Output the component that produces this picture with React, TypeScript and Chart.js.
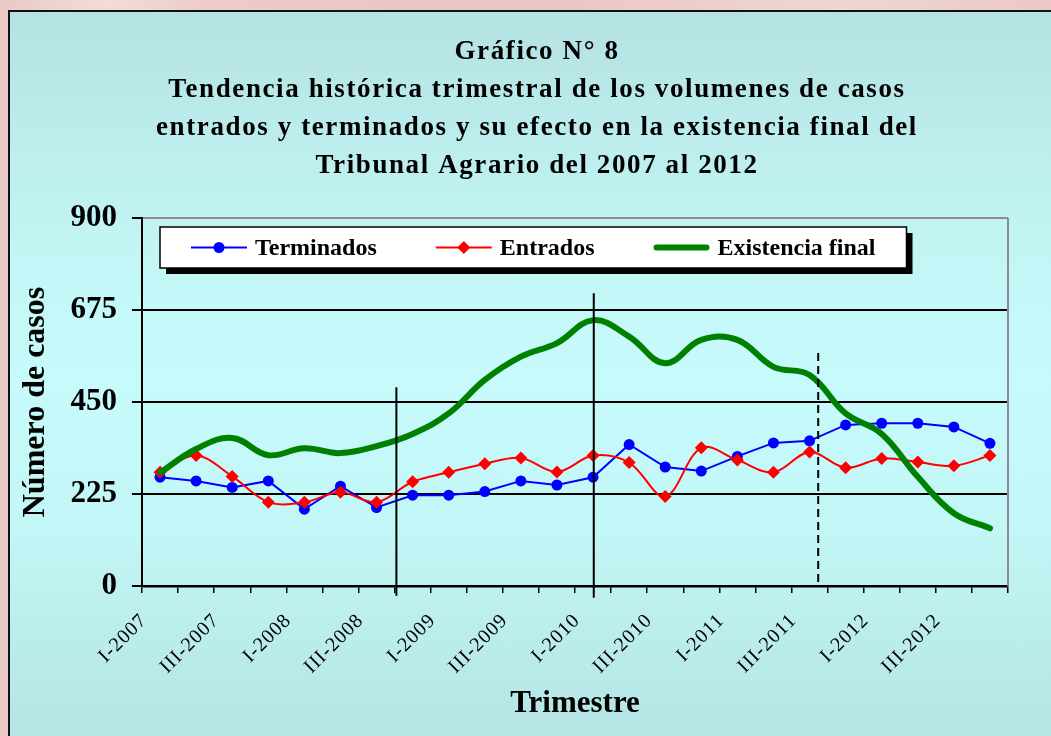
import React, { useEffect, useRef } from 'react';
import { Chart, registerables } from 'chart.js';

Chart.register(...registerables);

// ---- data ----
const quarters = [
  'I-2007', 'II-2007', 'III-2007', 'IV-2007',
  'I-2008', 'II-2008', 'III-2008', 'IV-2008',
  'I-2009', 'II-2009', 'III-2009', 'IV-2009',
  'I-2010', 'II-2010', 'III-2010', 'IV-2010',
  'I-2011', 'II-2011', 'III-2011', 'IV-2011',
  'I-2012', 'II-2012', 'III-2012', 'IV-2012',
];
const terminados = [266, 257, 241, 257, 188, 244, 192, 222, 222, 231, 257, 247, 266, 346, 291, 281, 317, 350, 355, 394, 398, 398, 389, 349];
const entrados = [278, 319, 268, 205, 205, 229, 205, 255, 278, 299, 313, 279, 319, 302, 219, 338, 308, 278, 328, 289, 312, 303, 294, 319];
const existenciaFinal = [277, 335, 362, 320, 337, 325, 342, 372, 422, 504, 561, 594, 650, 610, 545, 602, 602, 536, 516, 422, 372, 267, 178, 141];
const yTickValues = [0, 225, 450, 675, 900];
const seriesLabels = ['Terminados', 'Entrados', 'Existencia final'];
const titleLines = [
  'Gráfico N° 8',
  'Tendencia histórica trimestral de los volumenes de casos',
  'entrados y terminados y su efecto en la existencia final del',
  'Tribunal Agrario del 2007 al 2012',
];
const xTitle = 'Trimestre';
const yTitle = 'Número de casos';
// annotation lines: position on category axis, value range
const dividerAt = [6.55, 12.02, 18.24];
const dividerFrom = [-24, -29, 10];
const dividerTo = [486, 716, 581];
const dividerDashed = [false, false, true];

const SERIF = '"Liberation Serif", "Times New Roman", serif';

const spacingPlugin = {
  id: 'letterSpacingPatch',
  beforeDraw(chart: any) {
    const wrap = (obj: any, key: string, sp: string) => {
      if (!obj || obj['_sp_' + key]) return;
      const orig = obj[key];
      obj[key] = function (...args: any[]) {
        const c: any = chart.ctx;
        const prev = c.letterSpacing;
        c.letterSpacing = sp;
        try {
          return orig.apply(this, args);
        } finally {
          c.letterSpacing = prev;
        }
      };
      obj['_sp_' + key] = true;
    };
    wrap(chart.titleBlock, 'draw', '1.6px');
    wrap(chart.scales.x, 'drawLabels', '1px');
  },
};

const frameBorderPlugin = {
  id: 'plotRightBorder',
  beforeDatasetsDraw(chart: any) {
    const { ctx, chartArea } = chart;
    ctx.save();
    ctx.strokeStyle = '#8c8c8c';
    ctx.lineWidth = 2;
    ctx.beginPath();
    ctx.moveTo(chartArea.right, chartArea.top);
    ctx.lineTo(chartArea.right, chartArea.bottom);
    ctx.stroke();
    ctx.restore();
  },
};

const dividerPlugin = {
  id: 'dividers',
  afterDatasetsDraw(chart: any) {
    const { ctx } = chart;
    const x = chart.scales.x;
    const y = chart.scales.y;
    ctx.save();
    ctx.strokeStyle = '#000';
    ctx.lineWidth = 2;
    dividerAt.forEach((at, i) => {
      ctx.setLineDash(dividerDashed[i] ? [8, 5] : []);
      const px = x.getPixelForValue(at);
      ctx.beginPath();
      ctx.moveTo(px, y.getPixelForValue(dividerFrom[i]));
      ctx.lineTo(px, y.getPixelForValue(dividerTo[i]));
      ctx.stroke();
    });
    ctx.restore();
  },
};

const legendBoxPlugin = {
  id: 'legendBox',
  afterDraw(chart: any) {
    const { ctx, chartArea } = chart;
    const ds = chart.data.datasets;
    ctx.save();
    ctx.font = `bold 24px ${SERIF}`;
    const padL = 31, padR = 31, sample = 56, textGap = 8, itemGap = 59, h = 41;
    const widths = ds.map((d: any) => ctx.measureText(d.label).width);
    let w = padL + padR;
    widths.forEach((tw: number, i: number) => {
      w += sample + textGap + tw + (i < ds.length - 1 ? itemGap : 0);
    });
    const left = chartArea.left + 18;
    const top = chartArea.top + 9;
    ctx.fillStyle = '#000';
    ctx.fillRect(left + 6, top + 6, w, h);
    ctx.fillStyle = '#fff';
    ctx.fillRect(left, top, w, h);
    ctx.strokeStyle = '#000';
    ctx.lineWidth = 1.5;
    ctx.strokeRect(left, top, w, h);
    let x = left + padL;
    const cy = top + h / 2;
    ds.forEach((d: any, i: number) => {
      ctx.strokeStyle = d.borderColor;
      ctx.lineWidth = d.borderWidth;
      ctx.lineCap = d.borderCapStyle || 'butt';
      const inset = d.borderCapStyle === 'round' ? d.borderWidth / 2 : 0;
      ctx.beginPath();
      ctx.moveTo(x + inset, cy);
      ctx.lineTo(x + sample - inset, cy);
      ctx.stroke();
      const r = d.pointRadius || 0;
      const mx = x + sample / 2;
      if (r > 0) {
        ctx.fillStyle = d.backgroundColor;
        ctx.beginPath();
        if (d.pointStyle === 'rectRot') {
          ctx.moveTo(mx, cy - r);
          ctx.lineTo(mx + r, cy);
          ctx.lineTo(mx, cy + r);
          ctx.lineTo(mx - r, cy);
          ctx.closePath();
        } else {
          ctx.arc(mx, cy, r, 0, Math.PI * 2);
        }
        ctx.fill();
      }
      ctx.fillStyle = '#000';
      ctx.textAlign = 'left';
      ctx.textBaseline = 'middle';
      ctx.fillText(d.label, x + sample + textGap, cy + 1);
      x += sample + textGap + widths[i] + itemGap;
    });
    ctx.restore();
  },
};

export default function App() {
  const ref = useRef<HTMLCanvasElement>(null);

  useEffect(() => {
    const canvas = ref.current;
    if (!canvas) return;
    const chart = new Chart(canvas, {
      type: 'line',
      data: {
        labels: quarters,
        datasets: [
          {
            label: seriesLabels[0],
            data: terminados,
            borderColor: '#0000ff',
            backgroundColor: '#0000ff',
            borderWidth: 2,
            pointStyle: 'circle',
            pointRadius: 5.5,
            pointBorderWidth: 0,
            tension: 0,
            order: 3,
          },
          {
            label: seriesLabels[1],
            data: entrados,
            borderColor: '#ff0000',
            backgroundColor: '#ff0000',
            borderWidth: 2,
            pointStyle: 'rectRot',
            pointRadius: 6.5,
            pointBorderWidth: 0,
            tension: 0.35,
            order: 2,
          },
          {
            label: seriesLabels[2],
            data: existenciaFinal,
            borderColor: '#008000',
            backgroundColor: '#008000',
            borderWidth: 6,
            borderCapStyle: 'round',
            borderJoinStyle: 'round',
            pointRadius: 0,
            tension: 0.4,
            order: 1,
          },
        ] as any,
      },
      options: {
        animation: false,
        responsive: false,
        devicePixelRatio: 1,
        layout: { padding: 0 },
        plugins: {
          legend: { display: false },
          tooltip: { enabled: false },
          title: {
            display: true,
            text: titleLines,
            color: '#000',
            font: { family: SERIF, size: 27, weight: 'bold', lineHeight: '38px' },
            padding: { top: 33, bottom: 33 },
          },
        },
        scales: {
          x: {
            type: 'category',
            offset: true,
            grid: {
              display: true,
              drawOnChartArea: false,
              drawTicks: true,
              tickLength: 7,
              offset: true,
              color: '#000',
              lineWidth: 1.5,
            },
            border: { display: true, color: '#000', width: 2.5 },
            ticks: {
              autoSkip: false,
              maxRotation: 45,
              minRotation: 45,
              padding: 16,
              labelOffset: -16,
              color: '#000',
              font: { family: SERIF, size: 20 },
              callback: (_v: any, i: number) => (i % 2 === 0 ? quarters[i] : ''),
            },
            title: {
              display: true,
              text: xTitle,
              color: '#000',
              font: { family: SERIF, size: 31, weight: 'bold' },
              padding: { top: 0, bottom: 13 },
            },
            afterFit: (s: any) => {
              s.height = 150;
            },
          },
          y: {
            min: 0,
            max: 900,
            afterBuildTicks: (s: any) => {
              s.ticks = yTickValues.map((v) => ({ value: v }));
            },
            ticks: {
              color: '#000',
              padding: 15,
              font: { family: SERIF, size: 31, weight: 'bold' },
            },
            grid: {
              color: (c: any) => (c.tick && c.tick.value === 900 ? '#8c8c8c' : '#000'),
              lineWidth: 2,
              tickLength: 10,
              tickColor: '#000',
            },
            border: { color: '#000', width: 2 },
            title: {
              display: true,
              text: yTitle,
              color: '#000',
              font: { family: SERIF, size: 32, weight: 'bold' },
              padding: { top: 17, bottom: 0 },
            },
            afterFit: (s: any) => {
              s.width = 142;
            },
          },
          yRight: {
            position: 'right',
            display: true,
            min: 0,
            max: 900,
            grid: { display: false },
            border: { display: false },
            ticks: { display: false },
            afterFit: (s: any) => {
              s.width = 66;
            },
          },
        },
      } as any,
      plugins: [spacingPlugin, frameBorderPlugin, dividerPlugin, legendBoxPlugin],
    });
    return () => chart.destroy();
  }, []);

  return (
    <div
      style={{
        position: 'fixed',
        left: 0,
        top: 0,
        width: 1051,
        height: 736,
        overflow: 'hidden',
        background: 'linear-gradient(90deg, #e9c9c4 0%, #f3dcd7 10%, #ecccc7 20%, #e8c6c1 50%, #f0d6d1 80%, #e9c9c4 100%)',
      }}
    >
      <div
        style={{
          position: 'absolute',
          left: 8,
          top: 10,
          width: 1100,
          height: 740,
          boxSizing: 'border-box',
          borderLeft: '2px solid #111',
          borderTop: '2px solid #111',
          background: 'linear-gradient(180deg, #b5e2e2 0%, #c2f4f4 30%, #c7fbfb 50%, #c3f6f6 70%, #b4e3e3 100%)',
        }}
      />
      <canvas
        ref={ref}
        width={1074}
        height={736}
        style={{ position: 'absolute', left: 0, top: 0, width: 1074, height: 736 }}
      />
    </div>
  );
}
